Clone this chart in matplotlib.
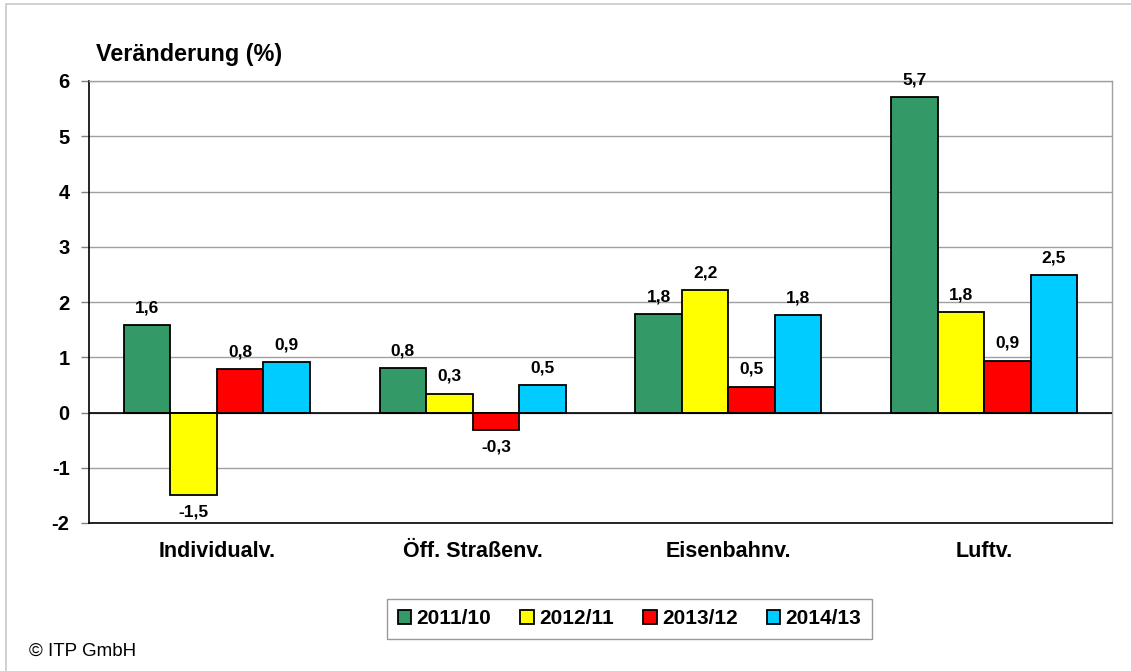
import matplotlib
matplotlib.use("Agg")
import matplotlib.pyplot as plt
from matplotlib.patches import Rectangle
import numpy as np

plt.rcParams['font.family'] = ['Liberation Sans', 'DejaVu Sans']

categories = ["Individualv.", "Öff. Straßenv.", "Eisenbahnv.", "Luftv."]
series_names = ["2011/10", "2012/11", "2013/12", "2014/13"]
s2011 = [1.58, 0.80, 1.78, 5.71]
s2012 = [-1.49, 0.34, 2.21, 1.81]
s2013 = [0.78, -0.31, 0.47, 0.94]
s2014 = [0.91, 0.49, 1.76, 2.48]
series = [s2011, s2012, s2013, s2014]
colors = ["#339966", "#FFFF00", "#FF0000", "#00CCFF"]
yticks = [-2, -1, 0, 1, 2, 3, 4, 5, 6]

W, H = 1131, 671
fig = plt.figure(figsize=(W / 100, H / 100), dpi=100)
ax = fig.add_axes([89 / W, 1 - 523 / H, (1112 - 89) / W, (523 - 81) / H])

x = np.arange(len(categories))
bw = 0.182
handles = []
for i, (vals, c, name) in enumerate(zip(series, colors, series_names)):
    pos = x + (i - 1.5) * bw
    b = ax.bar(pos, vals, width=bw, color=c, edgecolor="black", linewidth=1.3,
               label=name, zorder=3)
    handles.append(b)
    for px, v in zip(pos, vals):
        lab = f"{v:.1f}".replace(".", ",")
        if v >= 0:
            ax.annotate(lab, (px, v), xytext=(0, 7), textcoords="offset points",
                        ha="center", va="bottom", fontsize=12.5, fontweight="bold")
        else:
            ax.annotate(lab, (px, v), xytext=(0, -7), textcoords="offset points",
                        ha="center", va="top", fontsize=12.5, fontweight="bold")

ax.set_xlim(-0.5, len(categories) - 0.5)
ax.set_ylim(-2, 6)
ax.set_yticks(yticks)
ax.set_yticklabels([str(t) for t in yticks], fontsize=14.5, fontweight="bold")
ax.set_xticks(x)
ax.set_xticklabels(categories, fontsize=15.5, fontweight="bold")
ax.tick_params(axis="x", length=0, pad=13)
ax.tick_params(axis="y", length=6, width=1, color="#808080", pad=8)
ax.grid(axis="y", color="#a0a0a0", linewidth=1, zorder=0)
ax.axhline(0, color="black", linewidth=1.2, zorder=4)
for s in ["top", "right"]:
    ax.spines[s].set_color("#a0a0a0")
    ax.spines[s].set_linewidth(1)
for s in ["left", "bottom"]:
    ax.spines[s].set_color("black")
    ax.spines[s].set_linewidth(1.2)

fig.text(96 / W, 1 - 55 / H, "Veränderung (%)", fontsize=16.8, fontweight="bold",
         ha="left", va="center")
fig.text(29 / W, 1 - 651 / H, "© ITP GmbH", fontsize=13.5, ha="left", va="center")

leg = fig.legend(handles=handles, labels=series_names, loc="center",
                 bbox_to_anchor=((388 + 871) / 2 / W, 1 - 619 / H),
                 ncol=4, frameon=True, fancybox=False,
                 prop={"weight": "bold", "size": 15},
                 handlelength=0.65, handleheight=0.65, handletextpad=0.25,
                 columnspacing=1.4, borderpad=0.5)
leg.get_frame().set_edgecolor("#808080")
leg.get_frame().set_linewidth(1)

fig.add_artist(Rectangle((6 / W, -0.1), 1.2, 1 - 4 / H + 0.1, transform=fig.transFigure,
                         fill=False, edgecolor="#c8c8c8", linewidth=1.2))

fig.savefig("out.png", dpi=100)
